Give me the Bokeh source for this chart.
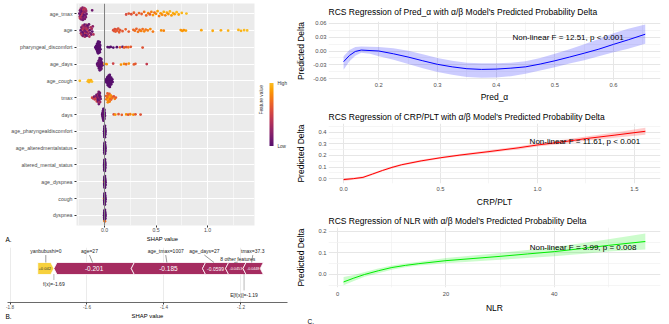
import numpy as np
from bokeh.plotting import figure
from bokeh.layouts import row, column
from bokeh.models import (Range1d, FixedTicker, ColumnDataSource, LinearColorMapper,
                          ColorBar, Label, Span, PrintfTickFormatter, LinearAxis, Title)
from bokeh.palettes import Inferno256
from bokeh.core.properties import value
from bokeh.embed import file_html
from bokeh.resources import INLINE

FONT = "Liberation Sans"
TICK_GREY = "#4D4D4D"

# ---------------- A. SHAP summary (beeswarm) ----------------
features = ["age_tmax", "age", "pharyngeal_discomfort", "age_days", "age_cough", "tmax", "days",
            "age_pharyngealdiscomfort", "age_alteredmentalstatus", "altered_mental_status",
            "age_dyspnea", "cough", "dyspnea"]

shap_age_tmax = [-0.245, -0.241, -0.238, -0.236, -0.233, -0.231, -0.229, -0.227, -0.225, -0.223,
                 -0.221, -0.219, -0.217, -0.215, -0.213, -0.211, -0.209, -0.207, -0.205, -0.203,
                 -0.2, -0.198, -0.195, -0.192, -0.19, -0.187, -0.184, -0.181, -0.178, -0.175, -0.12,
                 0.21, 0.235, 0.26, 0.285, 0.31, 0.335, 0.36, 0.385, 0.405, 0.425, 0.44, 0.455,
                 0.47, 0.485, 0.5, 0.515, 0.53, 0.545, 0.56, 0.575, 0.59, 0.605, 0.62, 0.635,
                 0.65, 0.665, 0.68, 0.70, 0.72, 0.75, 0.795]
fval_age_tmax = [0.08, 0.32, 0.12, 0.44, 0.18, 0.05, 0.38, 0.22, 0.10, 0.46, 0.15, 0.30, 0.06,
                 0.40, 0.20, 0.12, 0.35, 0.08, 0.42, 0.16, 0.28, 0.04, 0.36, 0.14, 0.24, 0.10,
                 0.40, 0.18, 0.30, 0.12, 0.10,
                 0.55, 0.62, 0.58, 0.66, 0.60, 0.70, 0.64, 0.74, 0.68, 0.80, 0.62, 0.78, 0.86,
                 0.72, 0.84, 0.90, 0.76, 0.88, 0.82, 0.94, 0.80, 0.92, 0.86, 0.96, 0.88, 0.95,
                 0.90, 0.98, 0.92, 0.97, 1.00]

shap_age = [-0.232, -0.228, -0.224, -0.221, -0.218, -0.215, -0.212, -0.21, -0.207, -0.205,
            -0.203, -0.2, -0.198, -0.196, -0.193, -0.191, -0.189, -0.186, -0.184, -0.182,
            -0.18, -0.177, -0.175, -0.172, -0.17, -0.167, -0.164, -0.161, -0.158, -0.155,
            -0.151, -0.147, -0.143, -0.139, -0.134, -0.129, -0.124, -0.119, -0.114, -0.108,
            0.085, 0.093, 0.1, 0.108, 0.116, 0.124, 0.133, 0.142, 0.152, 0.175, 0.205, 0.235,
            0.28, 0.295, 0.31, 0.325, 0.34, 0.355, 0.37, 0.385, 0.40, 0.42, 0.445, 0.47,
            0.55, 0.575, 0.74, 0.755, 0.77, 0.79, 0.94, 1.05, 1.13, 1.20, 1.30, 1.325, 1.355, 1.385]
fval_age = [0.05, 0.30, 0.12, 0.42, 0.20, 0.08, 0.36, 0.15, 0.45, 0.02, 0.26, 0.10, 0.38, 0.18,
            0.06, 0.32, 0.14, 0.44, 0.22, 0.04, 0.34, 0.12, 0.28, 0.08, 0.40, 0.16, 0.02, 0.30,
            0.20, 0.46, 0.10, 0.36, 0.06, 0.24, 0.42, 0.14, 0.32, 0.04, 0.22, 0.38,
            0.56, 0.60, 0.58, 0.62, 0.57, 0.63, 0.60, 0.64, 0.61, 0.62, 0.66, 0.64, 0.68, 0.72,
            0.66, 0.75, 0.70, 0.78, 0.72, 0.80, 0.74, 0.78, 0.82, 0.76, 0.84, 0.80, 0.86, 0.88,
            0.85, 0.90, 0.92, 0.93, 0.94, 0.95, 0.97, 0.96, 0.99, 1.00]

shap_pharyngeal = [-0.088, -0.084, -0.081, -0.078, -0.076, -0.074, -0.072, -0.07, -0.069, -0.068,
                   -0.067, -0.066, -0.065, -0.064, -0.063, -0.062, -0.061, -0.06, -0.059, -0.058,
                   -0.057, -0.056, -0.055, -0.054, -0.053, -0.052, -0.051, -0.05, -0.049, -0.048,
                   -0.047, -0.046, -0.045, -0.044, -0.042, -0.04,
                   0.03, 0.045, 0.06, 0.085, 0.12, 0.15, 0.175, 0.19, 0.21, 0.23, 0.255, 0.37]
fval_pharyngeal = [0, 0, 0, 0, 0, 0, 0, 0, 0, 0, 0, 0, 0, 0, 0, 0, 0, 0, 0, 0, 0, 0, 0, 0, 0, 0,
                   0, 0, 0, 0, 0, 0, 0, 0, 0, 0,
                   0, 0, 0, 0, 0, 0.62, 0, 0.66, 0.58, 0.72, 0.62, 0.60]

shap_age_days = [-0.072, -0.068, -0.065, -0.062, -0.06, -0.058, -0.056, -0.054, -0.053, -0.052,
                 -0.051, -0.05, -0.049, -0.048, -0.047, -0.046, -0.045, -0.044, -0.043, -0.042,
                 -0.041, -0.04, -0.039, -0.038, -0.037, -0.036, -0.035, -0.034, -0.033, -0.032,
                 -0.031, -0.03, -0.028, -0.026, -0.023, -0.02,
                 0.0, 0.02, 0.084, 0.16, 0.19, 0.21, 0.236, 0.285, 0.30, 0.41]
fval_age_days = [0.02, 0.05, 0.0, 0.08, 0.03, 0.10, 0.01, 0.06, 0.04, 0.0, 0.09, 0.02, 0.07, 0.05,
                 0.0, 0.03, 0.08, 0.01, 0.06, 0.04, 0.10, 0.02, 0.0, 0.05, 0.07, 0.03, 0.09, 0.01,
                 0.04, 0.06, 0.0, 0.08, 0.02, 0.05, 0.03, 0.07,
                 0.90, 0.86, 0.50, 0.86, 0.82, 0.70, 0.84, 0.65, 0.62, 0.45]

shap_age_cough = [-0.24, -0.162, -0.155, -0.15, -0.145, -0.14, -0.132, -0.122,
                  0.008, 0.012, 0.016, 0.02, 0.023, 0.026, 0.028, 0.03, 0.032, 0.034, 0.035,
                  0.037, 0.038, 0.04, 0.041, 0.042, 0.043, 0.045, 0.046, 0.047, 0.048, 0.05,
                  0.051, 0.052, 0.054, 0.055, 0.057, 0.059, 0.06, 0.062, 0.064, 0.066, 0.069,
                  0.072, 0.075, 0.078]
fval_age_cough = [1.0, 0.98, 1.0, 0.96, 1.0, 0.98, 0.95, 1.0,
                  0, 0, 0, 0, 0, 0, 0, 0, 0, 0, 0, 0, 0, 0, 0, 0, 0, 0, 0, 0, 0, 0, 0, 0, 0, 0,
                  0, 0, 0, 0, 0, 0, 0, 0, 0, 0]

shap_tmax = [-0.12, -0.11, -0.1, -0.094, -0.088, -0.083, -0.078, -0.074, -0.07,
             -0.066, -0.063, -0.061, -0.059, -0.057, -0.056, -0.055, -0.054, -0.052, -0.051,
             -0.05, -0.048, -0.047, -0.045, -0.043, -0.041, -0.038,
             0.014, 0.018, 0.022, 0.026, 0.029, 0.032, 0.034, 0.036, 0.038, 0.04, 0.042, 0.045,
             0.048, 0.05, 0.053, 0.056, 0.06, 0.064, 0.07, 0.076, 0.09, 0.1, 0.11]
fval_tmax = [0.55, 0.45, 0.12, 0.50, 0.20, 0.48, 0.10, 0.52, 0.15,
             0.05, 0.20, 0.10, 0.30, 0.02, 0.15, 0.08, 0.25, 0.05, 0.12, 0.35, 0.02, 0.18, 0.10,
             0.28, 0.06, 0.15,
             0.62, 0.75, 0.68, 0.80, 0.65, 0.85, 0.70, 0.90, 0.66, 0.82, 0.72, 0.88, 0.64, 0.78,
             0.92, 0.70, 0.84, 0.68, 0.80, 0.74, 0.60, 0.80, 0.64]

shap_days = [-0.022, -0.02, -0.019, -0.018, -0.017, -0.016, -0.015, -0.014, -0.013, -0.013,
             -0.012, -0.012, -0.011, -0.011, -0.01, -0.01, -0.009, -0.009, -0.008, -0.008,
             -0.007, -0.007, -0.006, -0.006, -0.005, -0.005, -0.004, -0.004, -0.003, -0.003,
             -0.002, -0.001, 0.0, 0.001, 0.002, 0.004,
             0.09, 0.105, 0.136, 0.168, 0.21, 0.23, 0.25, 0.28, 0.30, 0.35]
fval_days = [0.02, 0.06, 0.0, 0.09, 0.03, 0.05, 0.01, 0.08, 0.04, 0.0, 0.07, 0.02, 0.10, 0.05,
             0.0, 0.03, 0.06, 0.01, 0.08, 0.04, 0.02, 0.09, 0.0, 0.05, 0.07, 0.03, 0.06, 0.01,
             0.04, 0.08, 0.0, 0.05, 0.02, 0.07, 0.03, 0.06,
             0.60, 0.86, 0.62, 0.66, 0.86, 0.60, 0.80, 0.86, 0.62, 0.60]

shap_age_pharyngealdiscomfort = [-0.004, -0.003, -0.002, -0.002, -0.001, -0.001, 0.0, 0.0, 0.001,
                                 0.001, 0.002, 0.002, 0.003, 0.003, 0.004, 0.004, 0.005, 0.005,
                                 0.006, 0.007, 0.008, 0.009]
fval_age_pharyngealdiscomfort = [0, 0, 0, 0, 0, 0, 0, 0, 0, 0, 0, 0, 0, 0, 0, 0, 0, 0, 0, 0, 0, 0]

shap_age_alteredmentalstatus = [-0.003, -0.003, -0.002, -0.001, -0.001, 0.0, 0.0, 0.001, 0.001,
                                0.002, 0.002, 0.003, 0.003, 0.004, 0.004, 0.005, 0.005, 0.006,
                                0.006, 0.007, 0.008, 0.009]
fval_age_alteredmentalstatus = [0, 0, 0, 0, 0, 0, 0, 0, 0, 0, 0, 0, 0, 0, 0, 0, 0, 0, 0, 0, 0, 0]

shap_altered_mental_status = [-0.004, -0.003, -0.002, -0.001, -0.001, 0.0, 0.0, 0.0, 0.001, 0.001,
                              0.002, 0.002, 0.003, 0.003, 0.004, 0.004, 0.005, 0.005, 0.006,
                              0.007, 0.007, 0.008]
fval_altered_mental_status = [0, 0, 0, 0, 0, 0, 0, 0, 0, 0, 0, 0, 0, 0, 0, 0, 0, 0, 0, 0, 0, 0]

shap_age_dyspnea = [-0.004, -0.003, -0.002, -0.002, -0.001, 0.0, 0.0, 0.001, 0.001, 0.002, 0.002,
                    0.003, 0.003, 0.004, 0.004, 0.005, 0.005, 0.006, 0.006, 0.007, 0.008, 0.009]
fval_age_dyspnea = [0.95, 0, 0, 0, 0, 0, 0, 0, 0, 0, 0, 0, 0, 0, 0, 0, 0, 0, 0, 0, 0, 0]

shap_cough = [-0.005, -0.003, -0.002, -0.002, -0.001, -0.001, 0.0, 0.0, 0.001, 0.001, 0.002,
              0.002, 0.003, 0.003, 0.004, 0.004, 0.005, 0.006, 0.006, 0.007, 0.008, 0.009]
fval_cough = [0.95, 0, 0, 0, 0, 0, 0, 0, 0, 0, 0, 0, 0, 0, 0, 0, 0, 0, 0, 0, 0, 0]

shap_dyspnea = [-0.004, -0.003, -0.003, -0.002, -0.001, -0.001, 0.0, 0.0, 0.001, 0.001, 0.002,
                0.002, 0.003, 0.003, 0.004, 0.004, 0.005, 0.005, 0.006, 0.007, 0.008, 0.009]
fval_dyspnea = [0, 0, 0, 0, 0, 0, 0, 0.9, 0, 0, 0, 0, 0, 0, 0, 0.7, 0, 0, 0, 0, 0, 0]

shap_rows = [shap_age_tmax, shap_age, shap_pharyngeal, shap_age_days, shap_age_cough, shap_tmax,
             shap_days, shap_age_pharyngealdiscomfort, shap_age_alteredmentalstatus,
             shap_altered_mental_status, shap_age_dyspnea, shap_cough, shap_dyspnea]
fval_rows = [fval_age_tmax, fval_age, fval_pharyngeal, fval_age_days, fval_age_cough, fval_tmax,
             fval_days, fval_age_pharyngealdiscomfort, fval_age_alteredmentalstatus,
             fval_altered_mental_status, fval_age_dyspnea, fval_cough, fval_dyspnea]

# ---------------- B. force plot for one observation ----------------
force_labels = ["yanbubushi=0", "age=27", "age_tmax=1007", "age_days=27", "8 other features", "tmax=37.3"]
force_shap = [0.042, -0.201, -0.185, -0.0599, -0.0453, -0.0448]
f_x = -1.686

# ---------------- C. restricted cubic spline fits ----------------
pa_x = [0.140, 0.150, 0.160, 0.170, 0.185, 0.200, 0.225, 0.250, 0.275, 0.300, 0.325, 0.350,
        0.375, 0.400, 0.425, 0.450, 0.475, 0.500, 0.525, 0.550, 0.575, 0.600, 0.625, 0.654]
pa_fit = [-0.023, -0.0096, -0.001, 0.002, 0.001, 0.0, -0.006, -0.013, -0.021, -0.0286, -0.034,
          -0.038, -0.0395, -0.0388, -0.0368, -0.034, -0.028, -0.021, -0.013, -0.0047, 0.004,
          0.0143, 0.024, 0.036]
pa_lo = [-0.040, -0.022, -0.010, -0.004, -0.006, -0.011, -0.019, -0.028, -0.037, -0.045, -0.051,
         -0.0557, -0.0575, -0.057, -0.054, -0.049, -0.042, -0.0347, -0.027, -0.0198, -0.011,
         -0.0027, 0.005, 0.0157]
pa_hi = [-0.011, 0.002, 0.0085, 0.0095, 0.0092, 0.0088, 0.006, 0.0007, -0.007, -0.015, -0.021,
         -0.025, -0.0265, -0.0265, -0.025, -0.022, -0.015, -0.0061, 0.004, 0.0143, 0.026, 0.038,
         0.048, 0.057]
pa_F, pa_p = 12.51, "< 0.001"

crp_x = [0.0, 0.05, 0.1, 0.15, 0.2, 0.25, 0.3, 0.4, 0.5, 0.6, 0.75, 0.9, 1.0, 1.1, 1.25, 1.4, 1.557]
crp_fit = [-0.008, 0.0, 0.011, 0.04, 0.07, 0.097, 0.12, 0.153, 0.18, 0.203, 0.233, 0.265, 0.29,
           0.31, 0.345, 0.375, 0.408]
crp_lo = [-0.02, -0.01, 0.002, 0.031, 0.061, 0.088, 0.111, 0.144, 0.171, 0.193, 0.222, 0.252,
          0.276, 0.294, 0.326, 0.352, 0.378]
crp_hi = [0.004, 0.01, 0.02, 0.049, 0.079, 0.106, 0.129, 0.162, 0.189, 0.213, 0.244, 0.278, 0.304,
          0.326, 0.364, 0.398, 0.438]
crp_F, crp_p = 11.61, "< 0.001"

nlr_x = [1.1, 3, 5, 7.5, 10, 12.5, 15, 20, 25, 30, 35, 40, 45, 50, 56.8]
nlr_fit = [-0.035, -0.017, 0.0, 0.017, 0.032, 0.042, 0.05, 0.064, 0.074, 0.084, 0.095, 0.106,
           0.12, 0.135, 0.153]
nlr_lo = [-0.05, -0.03, -0.011, 0.006, 0.022, 0.033, 0.041, 0.052, 0.06, 0.068, 0.076, 0.085,
          0.095, 0.106, 0.116]
nlr_hi = [-0.012, -0.003, 0.011, 0.028, 0.042, 0.051, 0.059, 0.076, 0.088, 0.1, 0.114, 0.127,
          0.145, 0.164, 0.19]
nlr_F, nlr_p = 3.99, "= 0.008"


# ---------------- helpers ----------------
def vdc(n, base=2):
    """Van der Corput sequence, used to spread points of a swarm."""
    out = []
    for i in range(1, n + 1):
        v, denom, k = 0.0, 1.0, i
        while k:
            denom *= base
            k, r = divmod(k, base)
            v += r / denom
        out.append(v)
    return np.array(out)


def bee_offsets(xs, width=0.4, adjust=0.5):
    """Quasirandom vertical offsets scaled by the local density of the SHAP values."""
    xs = np.asarray(xs, float)
    n = len(xs)
    sd = xs.std()
    q75, q25 = np.percentile(xs, [75, 25])
    iqr = q75 - q25
    s = min(sd, iqr / 1.34) if iqr > 0 else sd
    bw = max(0.9 * s * n ** -0.2 * adjust, 0.004)
    dens = np.exp(-0.5 * ((xs[:, None] - xs[None, :]) / bw) ** 2).sum(1)
    dens = dens / dens.max() * width
    order = np.argsort(xs, kind="stable")
    ranks = np.empty(n, int)
    ranks[order] = np.arange(n)
    return (2 * vdc(n)[ranks] - 1) * dens


def style_axis(ax, size, label_size, color=TICK_GREY):
    ax.major_label_text_font = FONT
    ax.major_label_text_font_size = size
    ax.major_label_text_color = color
    ax.axis_label_text_font = FONT
    ax.axis_label_text_font_size = label_size
    ax.axis_label_text_font_style = "normal"
    ax.axis_label_text_color = "black"
    ax.minor_tick_line_color = None


def caption_strip(x_left, px_unit, axis_title, title_x, letter, font_size):
    """Thin strip holding an axis title and the panel letter on one line."""
    x_right = x_left + 290 / px_unit
    s = figure(width=290, height=13, x_range=Range1d(x_left, x_right), y_range=Range1d(0, 13),
               output_backend="svg", toolbar_location=None, x_axis_location=None,
               y_axis_location=None, min_border=0, outline_line_color=None)
    s.xgrid.grid_line_color = None
    s.ygrid.grid_line_color = None
    s.text(x=[title_x], y=[9], text=[axis_title], text_align="center", text_baseline="middle",
           text_font=value(FONT), text_font_size=font_size, text_color="black")
    s.text(x=[x_left + 5 / px_unit], y=[8.5], text=[letter], text_align="left",
           text_baseline="middle", text_font=value(FONT), text_font_size="6.5px",
           text_color="black")
    return s


# ---------------- panel A ----------------
palette = Inferno256[64:218]
mapper = LinearColorMapper(palette=palette, low=0, high=1)

bx, by, bc = [], [], []
nfeat = len(features)
for k, (s, f) in enumerate(zip(shap_rows, fval_rows)):
    yrow = nfeat - k
    off = bee_offsets(s)
    bx += list(s)
    by += list(yrow + off)
    bc += list(f)
srcA = ColumnDataSource(dict(x=bx, y=by, fval=bc))

A_LEFT, A_RIGHT = -0.272, 1.456
pA = figure(width=290, height=234, x_range=Range1d(A_LEFT, A_RIGHT), y_range=Range1d(0.4, nfeat + 0.6),
            output_backend="svg", toolbar_location=None,
            min_border_left=76, min_border_right=36, min_border_top=3, min_border_bottom=8,
            background_fill_color="#EBEBEB", outline_line_color=None)
pA.xgrid.ticker = FixedTicker(ticks=[0, 0.5, 1.0], minor_ticks=[-0.25, 0.25, 0.75, 1.25])
pA.xgrid.grid_line_color = "white"
pA.xgrid.grid_line_width = 1
pA.xgrid.minor_grid_line_color = "white"
pA.xgrid.minor_grid_line_width = 0.5
pA.ygrid.ticker = FixedTicker(ticks=list(range(1, nfeat + 1)))
pA.ygrid.grid_line_color = "white"
pA.ygrid.grid_line_width = 1

pA.xaxis.ticker = FixedTicker(ticks=[0, 0.5, 1.0])
pA.xaxis.formatter = PrintfTickFormatter(format="%.1f")
pA.yaxis.ticker = FixedTicker(ticks=list(range(1, nfeat + 1)))
pA.yaxis.major_label_overrides = {nfeat - i: name for i, name in enumerate(features)}
for ax in (pA.xaxis[0], pA.yaxis[0]):
    style_axis(ax, "5.2px", "5.8px")
    ax.axis_line_color = None
    ax.major_tick_line_color = "#333333"
    ax.major_tick_out = 2
    ax.major_tick_in = 0
    ax.major_label_standoff = 2
pA.xaxis.major_label_standoff = 0

pA.add_layout(Span(location=0, dimension="height", line_color="#808080", line_width=1))
pA.scatter("x", "y", source=srcA, size=2.8, line_color=None,
           fill_color=dict(field="fval", transform=mapper))

# legend: rotated title carried by a tick-less axis, then the colour bar
fv_axis = LinearAxis(ticker=FixedTicker(ticks=[]), axis_label="Feature value",
                     axis_line_color=None, major_tick_line_color=None, minor_tick_line_color=None,
                     major_tick_out=0, major_tick_in=0, major_label_standoff=0,
                     axis_label_standoff=7, axis_label_text_font=FONT,
                     axis_label_text_font_size="4.8px", axis_label_text_font_style="normal",
                     axis_label_text_color="#333333")
try:
    fv_axis.axis_label_orientation = np.pi / 2
except Exception:
    pass
pA.add_layout(fv_axis, "right")

cbar = ColorBar(color_mapper=mapper, ticker=FixedTicker(ticks=[0, 1]),
                major_label_overrides={0: "Low", 1: "High"},
                width=4, height=63, padding=0, margin=0, location="center_left",
                label_standoff=4, major_tick_line_color=None, bar_line_color=None,
                major_label_text_font=FONT, major_label_text_font_size="4.6px",
                major_label_text_color="#333333", background_fill_color=None,
                border_line_color=None)
pA.add_layout(cbar, "right")

A_PX = 178 / (A_RIGHT - A_LEFT)
pAt = caption_strip(A_LEFT - 76 / A_PX, A_PX, "SHAP value", A_LEFT + 86 / A_PX, "A.", "5.8px")

# ---------------- panel B ----------------
B_LEFT, B_RIGHT = -1.8065, -1.0792
pB = figure(width=290, height=64, x_range=Range1d(B_LEFT, B_RIGHT), y_range=Range1d(-2.833, 1.75),
            output_backend="svg", toolbar_location=None, y_axis_location=None,
            min_border_left=7, min_border_right=3, min_border_top=0, min_border_bottom=9,
            outline_line_color=None)
pB.ygrid.grid_line_color = None
pB.xgrid.ticker = FixedTicker(ticks=[-1.8, -1.6, -1.4, -1.2])
pB.xgrid.grid_line_color = "#EBEBEB"
pB.xaxis.ticker = FixedTicker(ticks=[-1.8, -1.6, -1.4, -1.2])
pB.xaxis.formatter = PrintfTickFormatter(format="%.1f")
style_axis(pB.xaxis[0], "4.6px", "5.9px")
pB.xaxis.axis_line_color = "#444444"
pB.xaxis.axis_line_width = 0.8
pB.xaxis.major_tick_line_color = "#444444"
pB.xaxis.major_tick_out = 2
pB.xaxis.major_tick_in = 0
pB.xaxis.major_label_standoff = 0

px_per_unit = 280 / (B_RIGHT - B_LEFT)
left, right = {}, {}
cur = f_x
for i, v in enumerate(force_shap):
    if v > 0:
        right[i], left[i] = cur, cur - v
        cur = cur - v
cur = f_x
for i, v in enumerate(force_shap):
    if v < 0:
        left[i], right[i] = cur, cur - v
        cur = cur - v
e_fx = f_x - sum(force_shap)

tip = 0.008
pxs, pys, pcol, tx, tt, tcol, tfs = [], [], [], [], [], [], []
for i, v in enumerate(force_shap):
    a, b = left[i], right[i]
    if v > 0:
        pxs.append([a, b - tip, b, b - tip, a])
        pys.append([0.5, 0.5, 0, -0.5, -0.5])
        pcol.append("#f7d13d")
        tcol.append("#333333")
        txt = f"{v:+.3g}"
    else:
        pxs.append([a, a + tip, b + tip, b, b + tip, a + tip])
        pys.append([0, 0.5, 0.5, 0, -0.5, -0.5])
        pcol.append("#a52c60")
        tcol.append("white")
        txt = f"{v:.3g}"
    tx.append((a + b) / 2 + (tip / 2 if v < 0 else -tip / 3))
    tt.append(txt)
    wpx = abs(v) * px_per_unit
    tfs.append(f"{min(6.5, 0.85 * wpx / (0.56 * len(txt))):.1f}px")

pB.patches(pxs, pys, fill_color=pcol, line_color="white", line_width=0.8)
pB.text(x=tx, y=[0] * len(tx), text=tt, text_color=tcol, text_font_size=tfs,
        text_align="center", text_baseline="middle", text_font=value(FONT))

# feature labels with connectors
label_shift = [0.0, -0.008, -0.003, -0.025, 0.009, 0.003]
label_level = [1.42, 1.42, 1.42, 1.42, 0.83, 1.42]
centers = [(left[i] + right[i]) / 2 for i in range(len(force_shap))]
lab_x = [c + s for c, s in zip(centers, label_shift)]
pB.segment(x0=lab_x, y0=[lv - 0.3 for lv in label_level], x1=centers, y1=[0.5] * len(centers),
           line_color="#555555", line_width=0.6)
pB.text(x=lab_x, y=label_level, text=force_labels, text_align="center", text_baseline="middle",
        text_font=value(FONT), text_font_size="5px", text_color="#222222")

# prediction and baseline markers
pB.segment(x0=[f_x, e_fx], y0=[-0.5, -0.5], x1=[f_x, e_fx], y1=[-0.95, -1.85],
           line_color="#333333", line_width=0.7, line_dash="1 1")
pB.text(x=[f_x, e_fx], y=[-1.25, -2.17],
        text=[f"f(x)={f_x:.3g}", f"E[f(x)]={e_fx:.3g}"],
        text_align="center", text_baseline="middle", text_font=value(FONT),
        text_font_size="5px", text_color="#222222")

pBt = caption_strip(B_LEFT - 7 / px_per_unit, px_per_unit, "SHAP value",
                    (B_LEFT + B_RIGHT) / 2, "B.", "5.9px")


# ---------------- panel C ----------------
def rcs_panel(x, fit, lo, hi, color, title, xlabel, xr, yr, xt, xmt, yt, ymt, xfmt, yfmt,
              note, note_x, note_y, height, top, bottom, ylab_standoff, title_standoff,
              tick_standoff, xlab_standoff):
    p = figure(width=379, height=height, x_range=Range1d(*xr), y_range=Range1d(*yr),
               output_backend="svg", toolbar_location=None, title=title,
               min_border_left=38, min_border_right=9, min_border_top=top, min_border_bottom=bottom,
               outline_line_color=None)
    p.title.text_font = FONT
    p.title.text_font_size = "8.5px"
    p.title.text_font_style = "normal"
    p.title.text_color = "black"
    p.title.align = "left"
    p.title.offset = 0
    p.title.standoff = title_standoff
    for grid, ticks, minor in ((p.xgrid, xt, xmt), (p.ygrid, yt, ymt)):
        grid.ticker = FixedTicker(ticks=ticks, minor_ticks=minor)
        grid.grid_line_color = "#E6E6E6"
        grid.grid_line_width = 1
        grid.minor_grid_line_color = "#F1F1F1"
        grid.minor_grid_line_width = 0.7
    p.xaxis.ticker = FixedTicker(ticks=xt)
    p.yaxis.ticker = FixedTicker(ticks=yt)
    p.xaxis.formatter = PrintfTickFormatter(format=xfmt)
    p.yaxis.formatter = PrintfTickFormatter(format=yfmt)
    p.xaxis.axis_label = xlabel
    p.yaxis.axis_label = "Predicted Delta"
    for ax in (p.xaxis[0], p.yaxis[0]):
        style_axis(ax, "5.8px", "8.5px")
        ax.axis_line_color = None
        ax.major_tick_line_color = None
        ax.major_tick_out = 0
        ax.major_label_standoff = 2
    p.xaxis.major_label_standoff = tick_standoff
    p.xaxis.axis_label_standoff = xlab_standoff
    p.yaxis.axis_label_standoff = ylab_standoff
    p.varea(x=x, y1=lo, y2=hi, fill_color=color, fill_alpha=0.2)
    p.line(x=x, y=fit, line_color=color, line_width=1)
    p.add_layout(Label(x=note_x, y=note_y, text=note, text_align="center", text_baseline="middle",
                       text_font=FONT, text_font_size="8px", text_color="black"))
    return p


p1 = rcs_panel(pa_x, pa_fit, pa_lo, pa_hi, "blue",
               "RCS Regression of Pred_\u03b1 with \u03b1/\u03b2 Model's Predicted Probability Delta",
               "Pred_\u03b1", (0.1143, 0.680), (-0.0633, 0.0633),
               [0.2, 0.3, 0.4, 0.5, 0.6], [0.15, 0.25, 0.35, 0.45, 0.55, 0.65],
               [-0.06, -0.03, 0.0, 0.03, 0.06], [-0.045, -0.015, 0.015, 0.045],
               "%.1f", "%.2f", f"Non-linear F = {pa_F:.2f}, p {pa_p}", 0.5224, 0.0286,
               104, 21, 21, 4, 9, 2, 2)
p2 = rcs_panel(crp_x, crp_fit, crp_lo, crp_hi, "red",
               "RCS Regression of CRP/PLT with \u03b1/\u03b2 Model's Predicted Probability Delta",
               "CRP/PLT", (-0.0778, 1.635), (-0.0417, 0.475),
               [0.0, 0.5, 1.0, 1.5], [0.25, 0.75, 1.25],
               [0.0, 0.1, 0.2, 0.3, 0.4], [0.05, 0.15, 0.25, 0.35, 0.45],
               "%.1f", "%.1f", f"Non-linear F = {crp_F:.2f}, p {crp_p}", 1.245, 0.317,
               105, 19, 24, 9, 4, 3, 3)
p3 = rcs_panel(nlr_x, nlr_fit, nlr_lo, nlr_hi, "#00EE00",
               "RCS Regression of NLR with \u03b1/\u03b2 Model's Predicted Probability Delta",
               "NLR", (-1.68, 59.6), (-0.0607, 0.218),
               [0, 20, 40], [10, 30, 50],
               [0.0, 0.1, 0.2], [-0.05, 0.05, 0.15],
               "%d", "%.1f", f"Non-linear F = {nlr_F:.2f}, p {nlr_p}", 45.3, 0.1236,
               115, 18, 35, 9, 4, 4, 4)
p3.add_layout(Title(text="C.", align="left", offset=-21, standoff=0, text_font=FONT,
                    text_font_size="6.5px", text_font_style="normal", text_color="black"), "below")

layout = row(column(pA, row(pAt), row(pB), row(pBt)), column(p1, p2, p3))
open("out.html", "w").write(file_html(layout, INLINE))
